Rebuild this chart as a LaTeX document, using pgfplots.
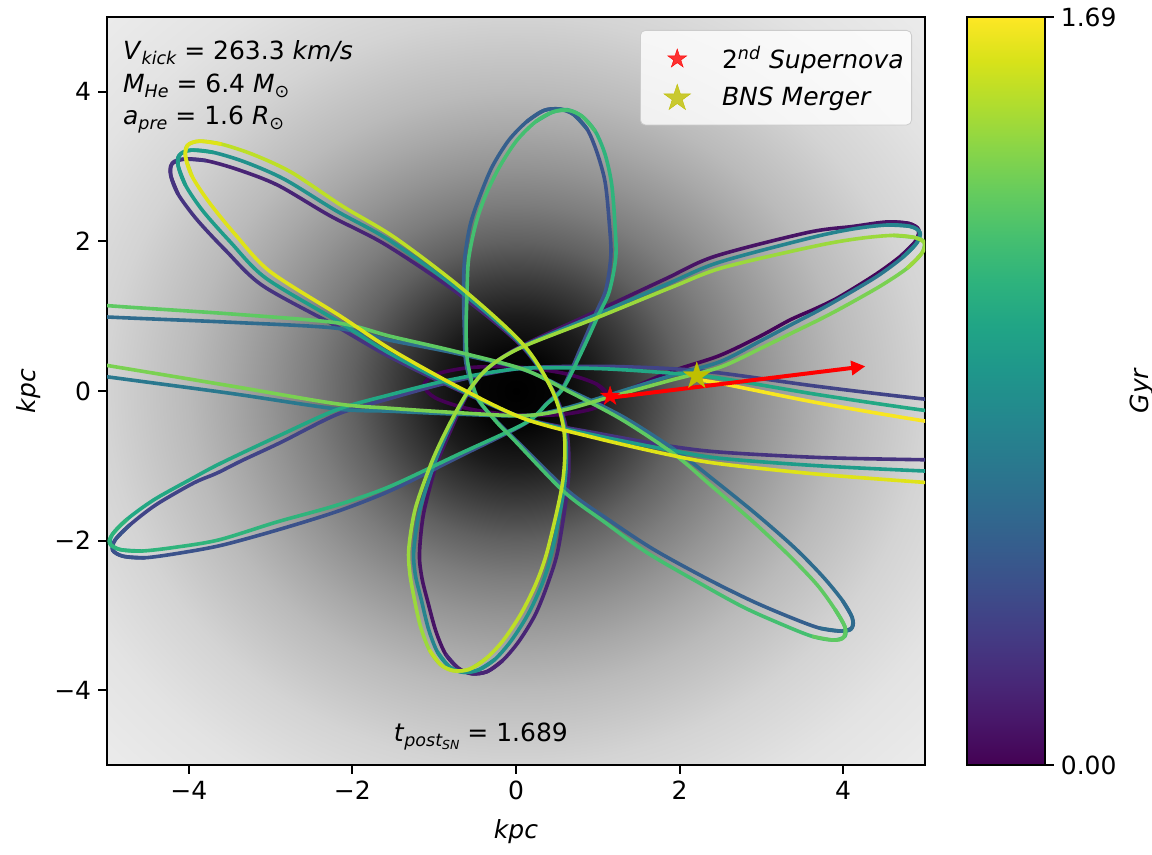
\documentclass[border=0pt]{standalone}
\usepackage{pgfplots}
\pgfplotsset{compat=1.18}
\usepackage{fontspec}
\setmainfont{DejaVu Sans}
\usetikzlibrary{arrows.meta}
\newcommand\myfont{\fontsize{12.5}{15}\selectfont}
\newcommand\sub[1]{\raisebox{-2.3pt}{\fontsize{8.75}{9}\selectfont\itshape #1}}
\pgfdeclareradialshading{galaxy}{\pgfpoint{0bp}{0bp}}{%
 color(0bp)=(black);
 color(2.5bp)=(white!2!black);
 color(5bp)=(white!11!black);
 color(7.5bp)=(white!24!black);
 color(10bp)=(white!38!black);
 color(12.5bp)=(white!49!black);
 color(15bp)=(white!58!black);
 color(17.5bp)=(white!66!black);
 color(20bp)=(white!73!black);
 color(22.5bp)=(white!78!black);
 color(25bp)=(white!83!black);
 color(30bp)=(white!89!black);
 color(35bp)=(white!92!black);
 color(50bp)=(white!94!black)}
\pgfdeclareplotmark{fstar}{%
 \pgfpathmoveto{\pgfpointpolar{90}{\pgfplotmarksize}}%
 \pgfpathlineto{\pgfpointpolar{126}{0.382\pgfplotmarksize}}%
 \pgfpathlineto{\pgfpointpolar{162}{\pgfplotmarksize}}%
 \pgfpathlineto{\pgfpointpolar{198}{0.382\pgfplotmarksize}}%
 \pgfpathlineto{\pgfpointpolar{234}{\pgfplotmarksize}}%
 \pgfpathlineto{\pgfpointpolar{270}{0.382\pgfplotmarksize}}%
 \pgfpathlineto{\pgfpointpolar{306}{\pgfplotmarksize}}%
 \pgfpathlineto{\pgfpointpolar{342}{0.382\pgfplotmarksize}}%
 \pgfpathlineto{\pgfpointpolar{18}{\pgfplotmarksize}}%
 \pgfpathlineto{\pgfpointpolar{54}{0.382\pgfplotmarksize}}%
 \pgfpathclose
 \pgfusepathqfillstroke}
\definecolor{vpre}{HTML}{440154}
\definecolor{vi}{HTML}{450559}
\definecolor{va1}{HTML}{471365}
\definecolor{va2}{HTML}{482475}
\definecolor{va3}{HTML}{463480}
\definecolor{va4}{HTML}{414487}
\definecolor{va5}{HTML}{3B528B}
\definecolor{va6}{HTML}{355F8D}
\definecolor{va7}{HTML}{2F6C8E}
\definecolor{va8}{HTML}{2A788E}
\definecolor{vb1}{HTML}{25848E}
\definecolor{vb2}{HTML}{21918C}
\definecolor{vb3}{HTML}{1E9C89}
\definecolor{vb4}{HTML}{22A884}
\definecolor{vb5}{HTML}{2FB47C}
\definecolor{vb6}{HTML}{44BF70}
\definecolor{vb7}{HTML}{5EC962}
\definecolor{vb8}{HTML}{7AD151}
\definecolor{vc1}{HTML}{9BD93C}
\definecolor{vc2}{HTML}{BDDF26}
\definecolor{vc3}{HTML}{DFE318}
\definecolor{vc4}{HTML}{F8E621}
\definecolor{mplolive}{HTML}{BFBF00}
\pgfplotsset{orb/.style={smooth, line width=1.8pt, forget plot, no markers},
  starleg/.style={legend image code/.code={\path (0cm,0cm) (1.28cm,0cm); \draw[##1] plot coordinates {(0.57cm,0cm)};}}}
\begin{document}
\begin{tikzpicture}
\useasboundingbox (-53.5pt,-45pt) rectangle (522.5pt,382.5pt);
\begin{axis}[
  scale only axis, width=409pt, height=374pt,
  xmin=-5, xmax=5, ymin=-5, ymax=5,
  enlargelimits=false,
  axis background/.style={shade, shading=galaxy},
  axis line style={line width=1pt},
  every tick/.style={line width=1pt, black},
  tick align=outside, major tick length=4.4pt,
  xtick pos=left, ytick pos=left,
  xtick={-4,-2,0,2,4}, xticklabels={−4,−2,0,2,4},
  ytick={-4,-2,0,2,4}, yticklabels={−4,−2,0,2,4},
  tick label style={font=\myfont},
  xlabel={\itshape kpc}, ylabel={\itshape kpc},
  label style={font=\myfont},
  xlabel style={yshift=-3pt},
  colormap/viridis,
  point meta min=0, point meta max=1.69,
  colorbar,
  colorbar/width=39pt,
  colorbar shift/.style={xshift=21pt},
  colorbar style={
    at={(parent axis.north east)}, anchor=north west,
    scale only axis, width=39pt, height=374pt,
    axis background/.style={},
    xlabel={}, xtick=\empty, xticklabels={},
    ytick={0,1.69}, yticklabels={0.00,1.69},
    ytick pos=right, yticklabel pos=right,
    tick align=outside, major tick length=4.4pt,
    ylabel={\itshape Gyr}, ylabel style={font=\myfont},
    axis line style={line width=1pt},
  },
  legend style={at={(1,1)}, anchor=north east, xshift=-6.5pt, yshift=-6.5pt,
    draw=black!20, fill=white, fill opacity=0.8, text opacity=1, draw opacity=1,
    rounded corners=2.5pt, font=\myfont\itshape, inner xsep=2pt, inner ysep=6pt,
    row sep=4pt},
  legend cell align=left,
]
% pre-SN orbit
\addplot[orb, color=vpre] coordinates {(0.965,-0.228) (1.127,-0.079) (0.987,0.092) (0.583,0.237) (0.022,0.319) (-0.545,0.315) (-0.965,0.228) (-1.127,0.079) (-0.987,-0.092) (-0.583,-0.237) (-0.022,-0.319) (0.545,-0.315) (0.965,-0.228) (1.127,-0.079) (0.987,0.092)};
% initial
\addplot[orb, color=vi] coordinates {(1.15,-0.09) (1.87,0.25) (2.48,0.47) (2.98,0.73) (3.35,0.95) (3.66,1.10) (3.94,1.25) (4.40,1.56) (4.71,1.81) (4.89,2.01) (4.92,2.16) (4.80,2.24) (4.53,2.26)};
% cycle 0
\addplot[orb, color=va1] coordinates {(4.71,1.81) (4.89,2.01) (4.92,2.16) (4.80,2.24) (4.53,2.26) (4.12,2.20) (3.57,2.12) (2.43,1.80) (1.83,1.50) (0.93,1.04) (0.03,0.58) (-0.36,0.29) (-0.60,-0.06) (-0.80,-0.53) (-0.98,-1.01) (-1.13,-1.64) (-1.18,-2.18) (-1.15,-2.50) (-1.08,-2.81) (-0.98,-3.21) (-0.86,-3.52) (-0.70,-3.71) (-0.53,-3.78) (-0.35,-3.75) (-0.16,-3.60)};
\addplot[orb, color=va2] coordinates {(-0.86,-3.52) (-0.70,-3.71) (-0.54,-3.78) (-0.35,-3.75) (-0.16,-3.60) (0.04,-3.34) (0.24,-2.98) (0.40,-2.54) (0.52,-2.09) (0.64,-1.18) (0.62,-0.53) (0.45,0.01) (0.05,0.62) (-0.74,1.33) (-1.60,1.96) (-2.27,2.34) (-2.91,2.75) (-3.40,2.96) (-3.79,3.08) (-4.06,3.10) (-4.21,3.03) (-4.22,2.88) (-4.13,2.63)};
\addplot[orb, color=va3] coordinates {(-3.79,3.08) (-4.06,3.10) (-4.20,3.05) (-4.22,2.88) (-4.13,2.63) (-3.90,2.29) (-3.55,1.88) (-3.10,1.41) (-2.22,0.88) (-1.55,0.46) (-0.70,0.01) (0.12,-0.37) (1.02,-0.57) (1.90,-0.74) (2.53,-0.82) (3.73,-0.89) (5.03,-0.92) (6.03,-0.93) (6.73,-0.81) (7.02,-0.55)};
\addplot[orb, color=va4] coordinates {(7.02,-0.58) (6.61,-0.29) (6.01,-0.21) (5.01,-0.11) (3.70,0.06) (2.50,0.24) (1.87,0.30) (0.99,0.33) (0.04,0.30) (-0.80,0.12) (-1.54,-0.10) (-2.18,-0.31) (-2.88,-0.69) (-3.35,-0.93) (-3.66,-1.10) (-3.94,-1.23) (-4.40,-1.52) (-4.72,-1.79) (-4.90,-1.99) (-4.93,-2.13) (-4.80,-2.21) (-4.54,-2.23)};
\addplot[orb, color=va5] coordinates {(-4.72,-1.79) (-4.90,-1.99) (-4.93,-2.13) (-4.80,-2.21) (-4.54,-2.23) (-4.13,-2.17) (-3.59,-2.06) (-2.86,-1.84) (-2.16,-1.60) (-1.51,-1.32) (-0.68,-0.87) (0.12,-0.43) (0.38,-0.16) (0.58,0.06) (0.79,0.57) (0.98,1.05) (1.10,1.36) (1.16,1.82) (1.14,2.25) (1.09,2.79) (0.99,3.19) (0.87,3.50) (0.70,3.70) (0.52,3.77) (0.34,3.75) (0.13,3.60)};
\addplot[orb, color=va6] coordinates {(0.87,3.50) (0.70,3.70) (0.54,3.77) (0.34,3.75) (0.13,3.60) (-0.09,3.35) (-0.29,3.00) (-0.44,2.61) (-0.56,2.22) (-0.63,1.74) (-0.64,1.24) (-0.63,0.79) (-0.61,0.36) (-0.48,-0.09) (-0.24,-0.40) (0.01,-0.67) (0.63,-1.33) (1.13,-1.72) (1.67,-2.11) (2.30,-2.49) (2.87,-2.80) (3.34,-3.02) (3.71,-3.17) (3.98,-3.21) (4.11,-3.16) (4.11,-3.03) (3.99,-2.80)};
\addplot[orb, color=va7] coordinates {(3.71,-3.17) (3.98,-3.21) (4.10,-3.18) (4.11,-3.03) (3.99,-2.80) (3.75,-2.48) (3.40,-2.09) (2.93,-1.64) (2.42,-1.19) (1.96,-0.80) (1.30,-0.34) (0.65,0.01) (0.08,0.29) (-0.76,0.51) (-1.55,0.68) (-2.20,0.84) (-3.51,0.92) (-5.01,0.99) (-6.02,1.06) (-6.81,0.91) (-7.06,0.66)};
\addplot[orb, color=va8] coordinates {(-7.06,0.69) (-6.70,0.44) (-6.00,0.34) (-5.00,0.19) (-3.50,-0.03) (-2.19,-0.24) (-1.54,-0.27) (-0.70,-0.31) (0.11,-0.33) (0.60,-0.23) (1.15,-0.05) (1.88,0.20) (2.49,0.39) (2.99,0.67) (3.37,0.89) (3.67,1.06) (3.95,1.23) (4.41,1.53) (4.72,1.78) (4.90,1.98) (4.93,2.13) (4.82,2.20) (4.55,2.22)};
% cycle 1
\addplot[orb, color=vb1] coordinates {(4.72,1.78) (4.90,1.98) (4.94,2.12) (4.82,2.20) (4.55,2.22) (4.14,2.17) (3.61,2.05) (2.48,1.72) (1.87,1.44) (0.96,1.01) (0.05,0.58) (-0.35,0.30) (-0.60,-0.04) (-0.82,-0.51) (-1.00,-0.98) (-1.18,-1.61) (-1.25,-2.14) (-1.23,-2.46) (-1.16,-2.78) (-1.07,-3.18) (-0.96,-3.49) (-0.81,-3.69) (-0.64,-3.76) (-0.46,-3.73) (-0.26,-3.59)};
\addplot[orb, color=vb2] coordinates {(-0.96,-3.49) (-0.81,-3.69) (-0.65,-3.76) (-0.46,-3.73) (-0.26,-3.59) (-0.06,-3.34) (0.15,-2.98) (0.33,-2.55) (0.45,-2.10) (0.60,-1.20) (0.60,-0.55) (0.45,0.00) (0.07,0.62) (-0.70,1.35) (-1.54,2.01) (-2.20,2.41) (-2.83,2.83) (-3.31,3.06) (-3.70,3.19) (-3.97,3.22) (-4.12,3.15) (-4.13,3.01) (-4.04,2.75)};
\addplot[orb, color=vb3] coordinates {(-3.70,3.19) (-3.97,3.22) (-4.10,3.17) (-4.13,3.01) (-4.04,2.75) (-3.83,2.41) (-3.49,1.99) (-3.06,1.51) (-2.19,0.94) (-1.54,0.50) (-0.70,0.03) (0.11,-0.37) (1.00,-0.60) (1.88,-0.79) (2.50,-0.90) (3.70,-1.00) (5.00,-1.07) (6.00,-1.11) (6.70,-1.01) (7.00,-0.76)};
\addplot[orb, color=vb4] coordinates {(7.00,-0.79) (6.60,-0.49) (6.00,-0.39) (5.00,-0.26) (3.70,-0.05) (2.50,0.17) (1.88,0.24) (1.00,0.30) (0.05,0.30) (-0.80,0.15) (-1.54,-0.05) (-2.19,-0.25) (-2.90,-0.60) (-3.37,-0.84) (-3.69,-1.01) (-3.96,-1.17) (-4.42,-1.45) (-4.75,-1.71) (-4.93,-1.91) (-4.96,-2.05) (-4.84,-2.12) (-4.58,-2.14)};
\addplot[orb, color=vb5] coordinates {(-4.75,-1.71) (-4.93,-1.91) (-4.97,-2.03) (-4.84,-2.12) (-4.58,-2.14) (-4.17,-2.09) (-3.63,-1.99) (-2.92,-1.75) (-2.20,-1.53) (-1.55,-1.28) (-0.71,-0.85) (0.11,-0.43) (0.38,-0.17) (0.58,0.04) (0.81,0.54) (1.01,1.02) (1.14,1.33) (1.22,1.79) (1.21,2.22) (1.17,2.76) (1.09,3.16) (0.97,3.47) (0.81,3.67) (0.63,3.76) (0.45,3.73) (0.24,3.60)};
\addplot[orb, color=vb6] coordinates {(0.97,3.47) (0.81,3.67) (0.65,3.75) (0.45,3.73) (0.24,3.60) (0.01,3.35) (-0.20,3.00) (-0.37,2.62) (-0.49,2.24) (-0.58,1.76) (-0.60,1.26) (-0.61,0.81) (-0.59,0.38) (-0.48,-0.07) (-0.25,-0.40) (-0.01,-0.67) (0.59,-1.35) (1.08,-1.75) (1.60,-2.16) (2.23,-2.56) (2.78,-2.89) (3.25,-3.12) (3.62,-3.28) (3.88,-3.33) (4.02,-3.28) (4.02,-3.15) (3.90,-2.92)};
\addplot[orb, color=vb7] coordinates {(3.62,-3.28) (3.88,-3.33) (4.00,-3.30) (4.02,-3.15) (3.90,-2.92) (3.68,-2.59) (3.33,-2.19) (2.88,-1.73) (2.38,-1.26) (1.94,-0.85) (1.29,-0.38) (0.65,-0.01) (0.09,0.29) (-0.74,0.53) (-1.53,0.73) (-2.18,0.91) (-3.48,1.03) (-4.98,1.14) (-5.98,1.24) (-6.78,1.12) (-7.04,0.87)};
\addplot[orb, color=vb8] coordinates {(-7.03,0.90) (-6.69,0.64) (-5.99,0.52) (-4.99,0.34) (-3.50,0.07) (-2.20,-0.17) (-1.55,-0.23) (-0.71,-0.29) (0.10,-0.33) (0.60,-0.25) (1.15,-0.08) (1.88,0.14) (2.50,0.32) (3.01,0.58) (3.40,0.79) (3.70,0.95) (3.98,1.11) (4.45,1.40) (4.78,1.64) (4.96,1.84) (4.99,1.99) (4.88,2.05) (4.61,2.08)};
% cycle 2
\addplot[orb, color=vc1] coordinates {(4.78,1.64) (4.96,1.84) (5.00,1.97) (4.88,2.05) (4.61,2.08) (4.20,2.04) (3.67,1.94) (2.53,1.65) (1.91,1.39) (0.99,0.98) (0.06,0.58) (-0.34,0.31) (-0.60,-0.03) (-0.83,-0.48) (-1.03,-0.95) (-1.23,-1.57) (-1.31,-2.10) (-1.30,-2.42) (-1.25,-2.74) (-1.17,-3.14) (-1.06,-3.46) (-0.92,-3.66) (-0.75,-3.74) (-0.57,-3.72) (-0.37,-3.58)};
\addplot[orb, color=vc2] coordinates {(-1.06,-3.46) (-0.92,-3.66) (-0.77,-3.74) (-0.57,-3.72) (-0.37,-3.58) (-0.16,-3.34) (0.06,-2.98) (0.25,-2.56) (0.39,-2.11) (0.57,-1.22) (0.59,-0.57) (0.45,-0.01) (0.09,0.62) (-0.66,1.37) (-1.48,2.05) (-2.12,2.47) (-2.74,2.92) (-3.21,3.16) (-3.60,3.30) (-3.87,3.34) (-4.02,3.28) (-4.04,3.13) (-3.96,2.87)};
\addplot[orb, color=vc3] coordinates {(-3.60,3.30) (-3.87,3.34) (-4.01,3.29) (-4.04,3.13) (-3.96,2.87) (-3.75,2.52) (-3.43,2.09) (-3.01,1.60) (-2.16,1.01) (-1.52,0.55) (-0.70,0.05) (0.10,-0.37) (0.98,-0.63) (1.86,-0.85) (2.47,-0.97) (3.67,-1.11) (4.97,-1.22) (5.97,-1.29) (6.67,-1.21) (6.98,-0.97)};
\addplot[orb, color=vc4] coordinates {(6.97,-0.99) (6.58,-0.67) (5.99,-0.55) (4.99,-0.40) (3.70,-0.16) (2.51,0.10) (2.21,0.15)};
% markers
\addplot[only marks, mark=fstar, mark size=5pt, mark options={fill=red, draw=red, line width=0.2pt}, starleg]
  coordinates {(1.15,-0.07)};
\addlegendentry{{\upshape 2}\textsuperscript{nd} Supernova}
\addplot[only marks, mark=fstar, mark size=7pt, mark options={fill=mplolive, draw=mplolive, line width=0.2pt}, starleg]
  coordinates {(2.21,0.20)};
\addlegendentry{BNS Merger}
\addplot[forget plot, draw=red, line width=2pt, -{Triangle[length=7pt,width=7pt]}] coordinates {(1.15,-0.09) (4.27,0.33)};
% annotations
\node[anchor=base west, font=\myfont, xshift=4.5pt, yshift=-21.5pt] at (rel axis cs:0,1) {\textit{V}\sub{kick} = 263.3 \textit{km/s}};
\node[anchor=base west, font=\myfont, xshift=4.5pt, yshift=-38pt] at (rel axis cs:0,1) {\textit{M}\sub{He} = 6.4 \textit{M}\raisebox{-2.3pt}{\fontsize{8.75}{9}\selectfont ⊙}};
\node[anchor=base west, font=\myfont, xshift=4.5pt, yshift=-54pt] at (rel axis cs:0,1) {\textit{a}\sub{pre} = 1.6 \textit{R}\raisebox{-2.3pt}{\fontsize{8.75}{9}\selectfont ⊙}};
\node[anchor=base, font=\myfont] at (axis cs:-0.43,-4.69) {\textit{t}\raisebox{-2.5pt}{\fontsize{8.75}{9}\selectfont\itshape post\raisebox{-1.5pt}{\fontsize{6.25}{7}\selectfont SN}} = 1.689};
\end{axis}
\end{tikzpicture}
\end{document}
